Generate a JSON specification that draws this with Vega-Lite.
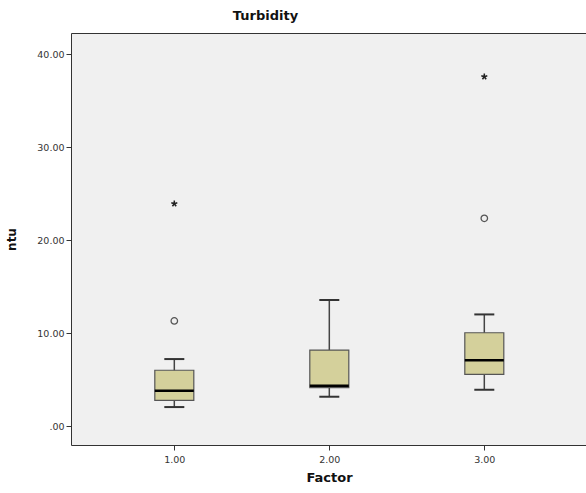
{
  "$schema": "https://vega.github.io/schema/vega-lite/v6.json",
  "autosize": "none",
  "width": 515,
  "height": 412,
  "padding": {"left": 71, "top": 33, "right": 0, "bottom": 48},
  "background": "white",
  "config": {
    "view": {"fill": "#f0f0f0", "stroke": null},
    "font": "DejaVu Sans"
  },
  "title": {
    "text": "Turbidity",
    "fontSize": 13,
    "fontWeight": "bold",
    "color": "#111",
    "anchor": "middle",
    "dx": -63,
    "offset": 10
  },
  "datasets": {
    "boxes": [
      {"factor": 1, "lo": 2.04, "q1": 2.76, "med": 3.8, "q3": 6.0, "hi": 7.2},
      {"factor": 2, "lo": 3.15, "q1": 4.12, "med": 4.33, "q3": 8.17, "hi": 13.55},
      {"factor": 3, "lo": 3.9, "q1": 5.56, "med": 7.06, "q3": 10.03, "hi": 12.0}
    ],
    "outliers": [
      {"factor": 1, "value": 11.3, "type": "circle"},
      {"factor": 1, "value": 23.9, "type": "star"},
      {"factor": 3, "value": 22.33, "type": "circle"},
      {"factor": 3, "value": 37.56, "type": "star"}
    ]
  },
  "data": {"name": "boxes"},
  "resolve": {"axis": {"x": "independent"}},
  "layer": [
    {
      "mark": {"type": "rule", "color": "#444", "strokeWidth": 1.5},
      "encoding": {
        "x": {
          "field": "factor",
          "type": "quantitative",
          "scale": {"domain": [0.3335, 3.6561], "nice": false, "zero": false, "padding": 0},
          "axis": {
            "values": [1, 2, 3],
            "format": ".2f",
            "title": "Factor",
            "titleFontSize": 13,
            "titleFontWeight": "bold",
            "titleColor": "#111",
            "titlePadding": 8,
            "titleX": 258,
            "labelFontSize": 9.5,
            "labelColor": "#333",
            "labelPadding": 4,
            "tickColor": "#333",
            "tickSize": 5,
            "domainColor": "#333",
            "grid": false
          }
        },
        "y": {
          "field": "lo",
          "type": "quantitative",
          "scale": {"domain": [-2.04, 42.26], "nice": false, "zero": false},
          "axis": {
            "values": [0, 10, 20, 30, 40],
            "labelExpr": "datum.value == 0 ? '.00' : format(datum.value, '.2f')",
            "title": "ntu",
            "titleFontSize": 12,
            "titleFontWeight": "bold",
            "titleColor": "#111",
            "titlePadding": 18,
            "labelFontSize": 9.5,
            "labelColor": "#333",
            "labelPadding": 2,
            "tickColor": "#333",
            "tickSize": 5,
            "domainColor": "#333",
            "grid": false
          }
        },
        "y2": {"field": "hi"}
      }
    },
    {
      "mark": {"type": "bar", "size": 39, "color": "#d4d09b", "stroke": "#555", "strokeWidth": 1.2},
      "encoding": {
        "x": {"field": "factor", "type": "quantitative", "axis": {"orient": "top", "labels": false, "ticks": false, "title": null, "domain": true, "domainColor": "#333", "grid": false}},
        "y": {"field": "q1", "type": "quantitative"},
        "y2": {"field": "q3"}
      }
    },
    {
      "mark": {"type": "tick", "orient": "horizontal", "size": 39, "thickness": 2.5, "color": "#000", "opacity": 1},
      "encoding": {
        "x": {"field": "factor", "type": "quantitative", "axis": null},
        "y": {"field": "med", "type": "quantitative"}
      }
    },
    {
      "mark": {"type": "tick", "orient": "horizontal", "size": 20, "thickness": 2, "color": "#333", "opacity": 1},
      "encoding": {
        "x": {"field": "factor", "type": "quantitative", "axis": null},
        "y": {"field": "lo", "type": "quantitative"}
      }
    },
    {
      "mark": {"type": "tick", "orient": "horizontal", "size": 20, "thickness": 2, "color": "#333", "opacity": 1},
      "encoding": {
        "x": {"field": "factor", "type": "quantitative", "axis": null},
        "y": {"field": "hi", "type": "quantitative"}
      }
    },
    {
      "data": {"name": "outliers"},
      "transform": [{"filter": "datum.type == 'circle'"}],
      "mark": {"type": "point", "shape": "circle", "filled": false, "size": 42, "stroke": "#555", "strokeWidth": 1.3, "opacity": 1},
      "encoding": {
        "x": {"field": "factor", "type": "quantitative", "axis": null},
        "y": {"field": "value", "type": "quantitative"}
      }
    },
    {
      "data": {"name": "outliers"},
      "transform": [{"filter": "datum.type == 'star'"}],
      "mark": {"type": "point", "shape": "M0,-1L0,0.2M0,0L0.95,-0.31M0,0L0.59,0.81M0,0L-0.59,0.81M0,0L-0.95,-0.31", "filled": false, "size": 40, "stroke": "#222", "strokeWidth": 1.5, "opacity": 1},
      "encoding": {
        "x": {"field": "factor", "type": "quantitative", "axis": null},
        "y": {"field": "value", "type": "quantitative"}
      }
    }
  ]
}
